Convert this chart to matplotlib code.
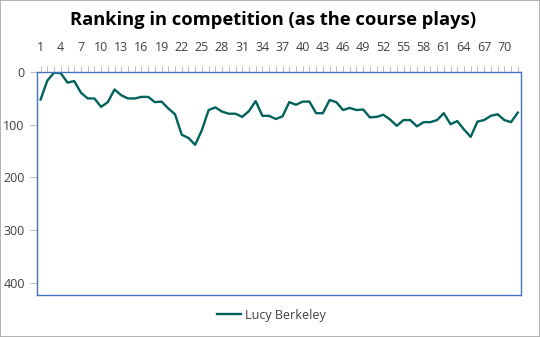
import matplotlib
matplotlib.use("Agg")
import matplotlib.pyplot as plt
from matplotlib.patches import Rectangle

plt.rcParams['font.family'] = ['Open Sans', 'DejaVu Sans']

rounds = list(range(1, 73))
ranking = [52, 16, 1, 2, 20, 17, 39, 50, 50, 66, 57, 33, 44, 50, 50, 47, 47, 57,
           56, 69, 80, 119, 125, 138, 110, 72, 67, 75, 79, 79, 85, 74, 55, 83,
           83, 89, 84, 57, 62, 56, 56, 78, 78, 53, 57, 72, 68, 72, 71, 86, 85,
           81, 90, 102, 91, 91, 103, 95, 95, 91, 78, 99, 93, 109, 123, 94, 91,
           83, 80, 91, 95, 77]
y_ticks = [0, 100, 200, 300, 400]

fig = plt.figure(figsize=(5.4, 3.37), dpi=100)
fig.patches.append(Rectangle((0, 0), 1, 1, transform=fig.transFigure,
                             fill=False, edgecolor='#a6a6a6', linewidth=1.2))
ax = fig.add_axes([0.069, 0.125, 0.896, 0.661])

ax.plot(rounds, ranking, color='#00625a', linewidth=1.7, label='Lucy Berkeley',
        solid_joinstyle='round')

ax.set_xlim(0.5, 72.5)
ax.set_ylim(423, 0)
ax.xaxis.tick_top()
ax.set_xticks(rounds)
ax.set_xticklabels([str(r) if (r - 1) % 3 == 0 else '' for r in rounds],
                   fontsize=9, color='#404040')
ax.tick_params(axis='x', length=4, width=0.8, color='#bfbfbf', pad=9)
ax.set_yticks(y_ticks)
ax.set_yticklabels([str(v) for v in y_ticks], fontsize=9, color='#404040')
ax.tick_params(axis='y', length=5, width=0.8, color='#bfbfbf', pad=4)

for s in ax.spines.values():
    s.set_color('#4472c4')
    s.set_linewidth(1.0)

fig.suptitle('Ranking in competition (as the course plays)', fontsize=13.2,
             fontweight='bold', y=0.967, x=0.505)

leg = fig.legend(loc='center', bbox_to_anchor=(0.503, 0.065), frameon=False,
                 fontsize=9, handlelength=1.9, handletextpad=0.3)
for t in leg.get_texts():
    t.set_color('#404040')

fig.savefig('out.png', dpi=100)
